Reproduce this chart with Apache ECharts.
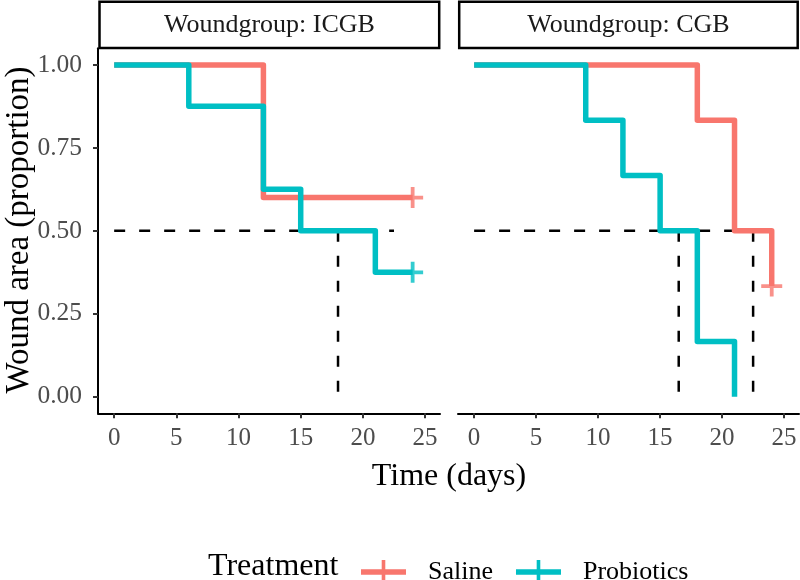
<!DOCTYPE html>
<html><head><meta charset="utf-8">
<script src="https://cdn.jsdelivr.net/npm/echarts@6/dist/echarts.min.js"></script>
<style>html,body{margin:0;padding:0;background:#fff}#c{width:800px;height:580px}</style>
</head><body><div id="c"></div>
<script>
// ---- data ----
const panels = ['Woundgroup: ICGB', 'Woundgroup: CGB'];
const treatments = ['Saline', 'Probiotics'];
const xTicks = [0, 5, 10, 15, 20, 25];
const yTicks = [0, 0.25, 0.5, 0.75, 1];

const icgbSalineTime = [0, 12, 24];
const icgbSalineSurv = [1, 0.6, 0.6];
const icgbProbTime = [0, 6, 12, 15, 21, 24];
const icgbProbSurv = [1, 0.875, 0.625, 0.5, 0.375, 0.375];
const cgbSalineTime = [0, 18, 21, 24];
const cgbSalineSurv = [1, 0.8333, 0.5, 0.3333];
const cgbProbTime = [0, 9, 12, 15, 18, 21];
const cgbProbSurv = [1, 0.8333, 0.6667, 0.5, 0.1667, 0];

const icgbSalineCensorTime = [24], icgbSalineCensorSurv = [0.6];
const icgbProbCensorTime = [24], icgbProbCensorSurv = [0.375];
const cgbSalineCensorTime = [24], cgbSalineCensorSurv = [0.3333];
const cgbProbCensorTime = [], cgbProbCensorSurv = [];

const medianLevel = 0.5;
const medianLineEnd = 22.5;
const icgbMedians = [18];
const cgbMedians = [16.5, 22.5];

// ---- style ----
const colors = { Saline: '#F8766D', Probiotics: '#00BFC4' };
const FONT = 'Liberation Serif';
const plusPath = 'path://M0,8.2 L20,8.2 L20,11.8 L0,11.8 Z M8.2,0 L11.8,0 L11.8,20 L8.2,20 Z';
const legendIcon = 'path://M0,9.3 L45,9.3 L45,14.7 L0,14.7 Z M20.7,0 L24.3,0 L24.3,24 L20.7,24 Z';

function zip(a, b) { return a.map((v, i) => [v, b[i]]); }
function stepSeries(name, t, s, gi) {
  return { type: 'line', name, xAxisIndex: gi, yAxisIndex: gi, step: 'end', data: zip(t, s),
    symbol: 'none', showSymbol: false, silent: true, z: 3,
    lineStyle: { color: colors[name], width: 5.5, join: 'round', cap: 'butt' },
    itemStyle: { color: colors[name] } };
}
function censorSeries(name, t, s, gi) {
  return { type: 'scatter', name, xAxisIndex: gi, yAxisIndex: gi, data: zip(t, s),
    symbol: plusPath, symbolSize: 21, silent: true, z: 4, itemStyle: { color: colors[name] } };
}
function dashSeries(data, gi) {
  return { type: 'line', xAxisIndex: gi, yAxisIndex: gi, data, symbol: 'none', silent: true, z: 2,
    lineStyle: { color: '#000', width: 2.5, type: [11, 14] } };
}
function medianSeries(meds, gi) {
  const out = [dashSeries([[0, medianLevel], [medianLineEnd, medianLevel]], gi)];
  meds.forEach(m => out.push(dashSeries([[m, medianLevel], [m, 0]], gi)));
  return out;
}
function xAxis(gi) {
  return { type: 'value', gridIndex: gi, min: -1.3, max: 26.2,
    axisLine: { show: true, onZero: false, lineStyle: { color: '#000', width: 2 } },
    axisTick: { show: true, length: 5, customValues: xTicks, lineStyle: { color: '#333', width: 2 } },
    axisLabel: { customValues: xTicks, color: '#4D4D4D', fontSize: 25, fontFamily: FONT, margin: 13 },
    splitLine: { show: false } };
}
function yAxis(gi, show) {
  return { type: 'value', gridIndex: gi, min: -0.05, max: 1.05, show,
    axisLine: { show: true, onZero: false, lineStyle: { color: '#000', width: 2 } },
    axisTick: { show: true, length: 5, customValues: yTicks, lineStyle: { color: '#333', width: 2 } },
    axisLabel: { customValues: yTicks, color: '#4D4D4D', fontSize: 25.5, fontFamily: FONT, margin: 16,
      formatter: v => v.toFixed(2) },
    splitLine: { show: false } };
}

const chart = echarts.init(document.getElementById('c'), null, { renderer: 'canvas' });
chart.setOption({
  animation: false,
  backgroundColor: '#fff',
  grid: [
    { left: 98, top: 48.3, width: 342, height: 365 },
    { left: 458, top: 48.3, width: 341, height: 365 }
  ],
  xAxis: [xAxis(0), xAxis(1)],
  yAxis: [yAxis(0, true), yAxis(1, false)],
  legend: {
    left: 361, top: 559, padding: 0, itemWidth: 45, itemHeight: 24, itemGap: 23,
    selectedMode: false,
    data: treatments.map(n => ({ name: n, icon: legendIcon, itemStyle: { color: colors[n] } })),
    textStyle: { fontSize: 26, fontFamily: FONT, color: '#000', padding: [0, 0, 0, 17] }
  },
  graphic: [
    { type: 'rect', shape: { x: 99.5, y: 1.8, width: 339.7, height: 46.2 },
      style: { fill: '#fff', stroke: '#000', lineWidth: 2.5 } },
    { type: 'rect', shape: { x: 459.2, y: 1.8, width: 338.5, height: 46.2 },
      style: { fill: '#fff', stroke: '#000', lineWidth: 2.5 } },
    { type: 'text', x: 269.4, y: 25, style: { text: panels[0], font: '26px "Liberation Serif"', fill: '#1A1A1A', textAlign: 'center', textVerticalAlign: 'middle' } },
    { type: 'text', x: 628.5, y: 25, style: { text: panels[1], font: '26px "Liberation Serif"', fill: '#1A1A1A', textAlign: 'center', textVerticalAlign: 'middle' } },
    { type: 'text', x: 449, y: 477, style: { text: 'Time (days)', font: '32px "Liberation Serif"', fill: '#000', textAlign: 'center', textVerticalAlign: 'middle' } },
    { type: 'text', x: 19, y: 230, rotation: Math.PI / 2, style: { text: 'Wound area (proportion)', font: '33px "Liberation Serif"', fill: '#000', textAlign: 'center', textVerticalAlign: 'middle' } },
    { type: 'text', x: 208, y: 567, style: { text: 'Treatment', font: '32px "Liberation Serif"', fill: '#000', textAlign: 'left', textVerticalAlign: 'middle' } }
  ],
  series: [
    ...medianSeries(icgbMedians, 0),
    ...medianSeries(cgbMedians, 1),
    stepSeries('Saline', icgbSalineTime, icgbSalineSurv, 0),
    stepSeries('Probiotics', icgbProbTime, icgbProbSurv, 0),
    stepSeries('Saline', cgbSalineTime, cgbSalineSurv, 1),
    stepSeries('Probiotics', cgbProbTime, cgbProbSurv, 1),
    censorSeries('Saline', icgbSalineCensorTime, icgbSalineCensorSurv, 0),
    censorSeries('Probiotics', icgbProbCensorTime, icgbProbCensorSurv, 0),
    censorSeries('Saline', cgbSalineCensorTime, cgbSalineCensorSurv, 1),
    censorSeries('Probiotics', cgbProbCensorTime, cgbProbCensorSurv, 1)
  ]
});
</script></body></html>
